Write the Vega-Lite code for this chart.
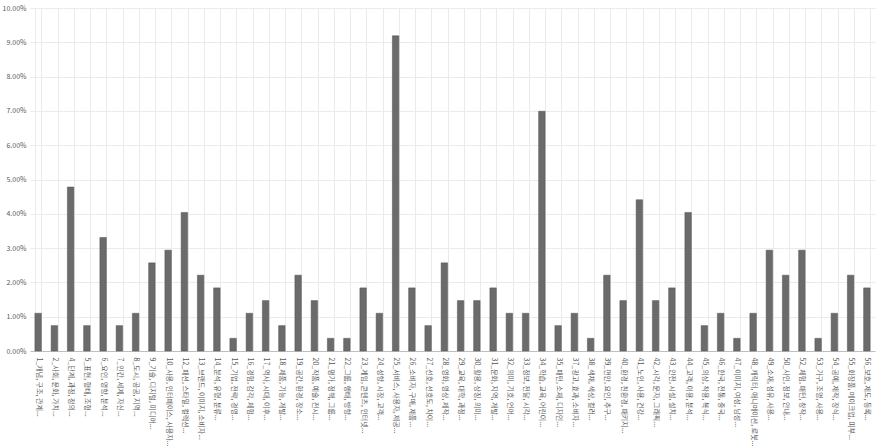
{
  "$schema": "https://vega.github.io/schema/vega-lite/v6.json",
  "width": 877,
  "height": 448,
  "autosize": {"type": "fit", "contains": "padding"},
  "padding": {"top": 4, "left": 2, "right": 2, "bottom": 2},
  "background": "white",
  "config": {
    "font": "Noto Sans CJK KR",
    "view": {"stroke": null},
    "axis": {
      "labelFont": "Noto Sans CJK KR",
      "labelColor": "#595959",
      "labelFontSize": 7,
      "gridColor": "#ebebeb",
      "gridWidth": 1,
      "ticks": false,
      "title": null
    }
  },
  "data": {
    "values": [
      {"label": "1_개념, 구조, 관계...", "share": 0.0110},
      {"label": "2_사회, 문화, 가치...", "share": 0.0074},
      {"label": "4_단계, 과정, 정의...", "share": 0.0478},
      {"label": "5_표현, 형태, 조형...", "share": 0.0074},
      {"label": "6_요인, 영향, 분석...", "share": 0.0331},
      {"label": "7_인간, 세계, 자신...", "share": 0.0074},
      {"label": "8_도시, 공공, 지역...", "share": 0.0110},
      {"label": "9_기술, 디지털, 미디어...", "share": 0.0257},
      {"label": "10_사용, 인터페이스, 사용자...", "share": 0.0294},
      {"label": "12_패션, 스타일, 컬렉션...", "share": 0.0404},
      {"label": "13_브랜드, 이미지, 소비자...", "share": 0.0221},
      {"label": "14_분석, 유형, 분류...", "share": 0.0184},
      {"label": "15_기업, 전략, 경영...", "share": 0.0037},
      {"label": "16_경험, 감각, 체험...", "share": 0.0110},
      {"label": "17_역사, 시대, 이후...", "share": 0.0147},
      {"label": "18_제품, 기능, 개발...", "share": 0.0074},
      {"label": "19_공간, 환경, 장소...", "share": 0.0221},
      {"label": "20_작품, 예술, 전시...", "share": 0.0147},
      {"label": "21_평가, 정책, 그룹...", "share": 0.0037},
      {"label": "22_그룹, 행태, 방향...", "share": 0.0037},
      {"label": "23_게임, 콘텐츠, 인터넷...", "share": 0.0184},
      {"label": "24_성향, 시장, 고객...", "share": 0.0110},
      {"label": "25_서비스, 사용자, 제공...", "share": 0.0919},
      {"label": "26_소비자, 구매, 제품...", "share": 0.0184},
      {"label": "27_선호, 선호도, 차이...", "share": 0.0074},
      {"label": "28_영화, 영상, 제작...", "share": 0.0257},
      {"label": "29_교육, 대학, 과정...", "share": 0.0147},
      {"label": "30_활용, 상징, 의미...", "share": 0.0147},
      {"label": "31_문화, 지역, 개발...", "share": 0.0184},
      {"label": "32_의미, 기호, 언어...", "share": 0.0110},
      {"label": "33_정보, 전달, 시각...", "share": 0.0110},
      {"label": "34_학습, 교육, 어린이...", "share": 0.0699},
      {"label": "35_패턴, 소재, 디자인...", "share": 0.0074},
      {"label": "37_광고, 효과, 소비자...", "share": 0.0110},
      {"label": "38_색채, 색상, 컬러...", "share": 0.0037},
      {"label": "39_편안, 요인, 추구...", "share": 0.0221},
      {"label": "40_환경, 친환경, 패키지...", "share": 0.0147},
      {"label": "41_노인, 사용, 건강...", "share": 0.0441},
      {"label": "42_시각, 문자, 그래픽...", "share": 0.0147},
      {"label": "43_안전, 시설, 설치...", "share": 0.0184},
      {"label": "44_고객, 이용, 분석...", "share": 0.0404},
      {"label": "45_의상, 착용, 복식...", "share": 0.0074},
      {"label": "46_한국, 전통, 중국...", "share": 0.0110},
      {"label": "47_이미지, 여성, 남성...", "share": 0.0037},
      {"label": "48_캐릭터, 애니메이션, 로봇...", "share": 0.0110},
      {"label": "49_소재, 섬유, 사용...", "share": 0.0294},
      {"label": "50_사인, 정보, 안내...", "share": 0.0221},
      {"label": "52_체험, 패턴, 창작...", "share": 0.0294},
      {"label": "53_가구, 조명, 사용...", "share": 0.0037},
      {"label": "54_공예, 제작, 장식...", "share": 0.0110},
      {"label": "55_화장품, 메이크업, 피부...", "share": 0.0221},
      {"label": "56_보호, 제도, 등록...", "share": 0.0184}
    ]
  },
  "mark": {"type": "bar", "color": "#6b6b6b", "stroke": "#555555", "strokeWidth": 0.5},
  "encoding": {
    "x": {
      "field": "label",
      "type": "nominal",
      "sort": null,
      "scale": {"paddingInner": 0.6, "paddingOuter": 0.3},
      "axis": {
        "labelAngle": 90,
        "labelAlign": "left",
        "labelBaseline": "middle",
        "labelPadding": 6,
        "labelLimit": 120,
        "grid": true,
        "tickBand": "extent",
        "domainColor": "#bfbfbf",
        "domainWidth": 1
      }
    },
    "y": {
      "field": "share",
      "type": "quantitative",
      "scale": {"domain": [0, 0.1]},
      "axis": {
        "format": ".2%",
        "values": [0, 0.01, 0.02, 0.03, 0.04, 0.05, 0.06, 0.07, 0.08, 0.09, 0.1],
        "domain": false,
        "labelPadding": 4
      }
    }
  }
}
